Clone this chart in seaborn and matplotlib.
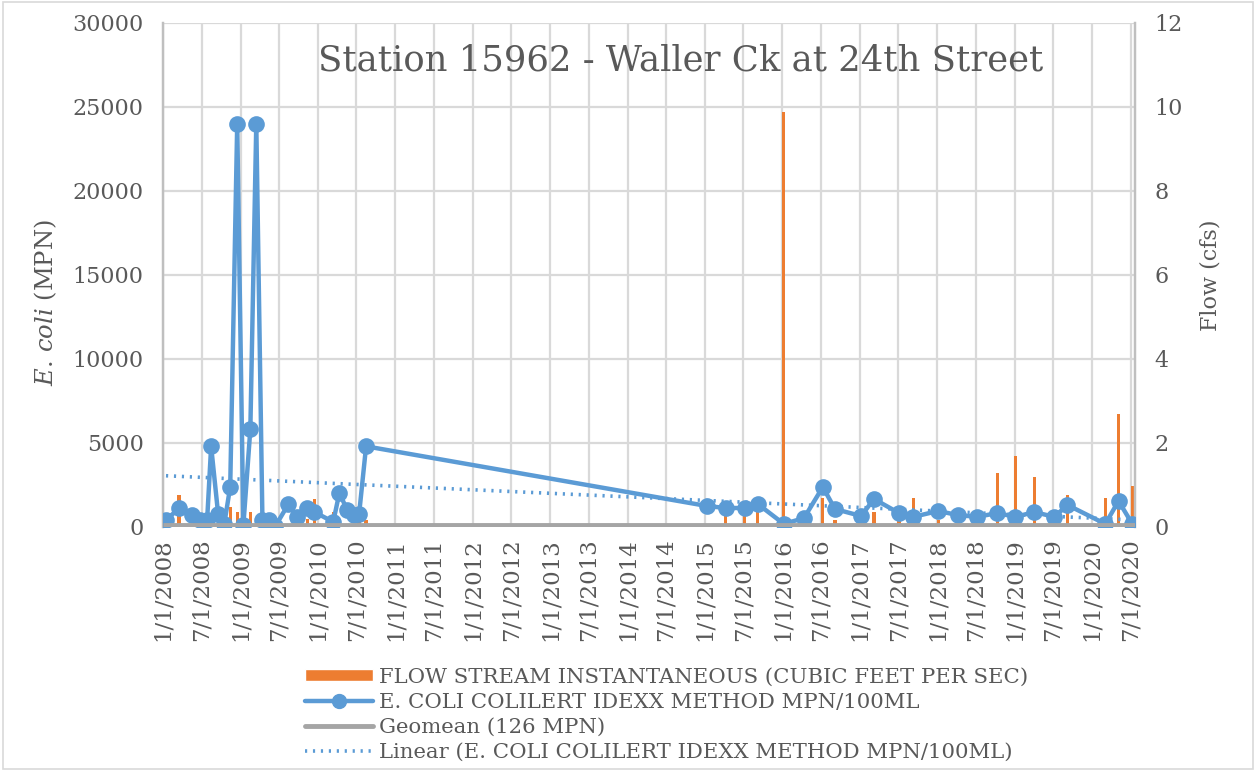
import matplotlib
matplotlib.use("Agg")
import matplotlib.pyplot as plt
from matplotlib.patches import Rectangle, Patch
from matplotlib.lines import Line2D
import seaborn as sns
import pandas as pd

# sample dates and values
dates = ["2008-01-15", "2008-03-16", "2008-05-17", "2008-06-24", "2008-07-27", "2008-08-15",
         "2008-09-17", "2008-10-16", "2008-11-13", "2008-12-16", "2009-01-14", "2009-02-16",
         "2009-03-16", "2009-04-14", "2009-05-16", "2009-06-14", "2009-08-14", "2009-09-25",
         "2009-11-12", "2009-12-14", "2010-03-14", "2010-04-12", "2010-05-19", "2010-06-21",
         "2010-07-14", "2010-08-16", "2015-01-10", "2015-04-08", "2015-07-07", "2015-09-07",
         "2016-01-08", "2016-04-12", "2016-07-10", "2016-09-05", "2017-01-07", "2017-03-08",
         "2017-07-04", "2017-09-09", "2018-01-05", "2018-04-08", "2018-07-08", "2018-10-11",
         "2019-01-04", "2019-04-04", "2019-07-07", "2019-09-07", "2020-03-04", "2020-05-05",
         "2020-07-09"]
ecoli = [420, 1100, 700, 400, 400, 4800,
         770, 180, 2400, 24000, 100, 5830,
         24000, 400, 420, 50, 1350, 600,
         1100, 900, 300, 2030, 1000, 700,
         760, 4800, 1250, 1130, 1130, 1370,
         180, 530, 2380, 1070, 650, 1670,
         830, 600, 950, 710, 600, 830,
         600, 890, 600, 1310, 180, 1550,
         180]
flow = [0, 0.76, 0, 0, 0, 0,
        0, 0, 0.48, 0.36, 0, 0.36,
        0, 0, 0, 0, 0, 0,
        0.2, 0.67, 0.36, 0, 0, 0,
        0.17, 0.17, 0, 0.26, 0.26, 0.36,
        9.88, 0, 0.68, 0.17, 0, 0.36,
        0.17, 0.68, 0.17, 0, 0, 1.28,
        1.68, 1.18, 0, 0.76, 0.68, 2.69,
        0.98]
geomean = 126
# Excel linear trendline, read at its two ends
trend_dates = ["2008-01-15", "2020-07-09"]
trend_values = [3050, 420]

df = pd.DataFrame({"date": pd.to_datetime(dates), "ecoli": ecoli, "flow": flow})
trend = pd.DataFrame({"date": pd.to_datetime(trend_dates), "value": trend_values})

blue = "#5B9BD5"
orange = "#ED7D31"
gray = "#A5A5A5"
txt = "#595959"

sns.set_style("white")
plt.rcParams["font.family"] = ["DejaVu Serif"]
plt.rcParams["mathtext.fontset"] = "dejavuserif"

x0, x1 = pd.Timestamp("2008-01-01"), pd.Timestamp("2020-07-22")

fig = plt.figure(figsize=(12.56, 7.71), dpi=100)
ax2 = fig.add_axes([0.1298, 0.3165, 0.9037 - 0.1298, 0.9702 - 0.3165])
ax = ax2.twinx()
ax.set_zorder(ax2.get_zorder() + 1)
ax.patch.set_visible(False)

# flow bars on the secondary axis (drawn underneath)
ax2.bar(df["date"], df["flow"], width=15, color=orange, linewidth=0, zorder=2)
ax2.set_ylim(0, 12)
ax2.set_yticks(range(0, 13, 2))
ax2.yaxis.tick_right()
ax2.yaxis.set_label_position("right")
ax2.set_ylabel("Flow (cfs)", fontsize=16, color=txt, labelpad=12)

xticks = pd.date_range("2008-01-01", "2020-07-01", freq="6MS")
ax2.set_xticks(xticks)
ax2.set_xticklabels([f"{d.month}/1/{d.year}" for d in xticks], rotation=90, fontsize=16.5, color=txt)
ax2.set_xlim(x0, x1)
ax2.grid(True, color="#D9D9D9", linewidth=1.6, zorder=0)
ax2.set_axisbelow(True)
ax2.tick_params(axis="y", labelsize=16, labelcolor=txt, length=0, pad=14)
ax2.tick_params(axis="x", length=0, pad=8)

# E. coli series on the primary axis
sns.lineplot(data=df, x="date", y="ecoli", ax=ax, color=blue, linewidth=3.2,
             marker="o", markersize=12, markeredgewidth=0, zorder=3)
sns.lineplot(data=trend, x="date", y="value", ax=ax, color=blue, linewidth=2.6,
             linestyle=(0, (0.6, 1.6)), zorder=3)
ax.plot([x0, x1], [geomean, geomean], color=gray, linewidth=3.5, zorder=4,
        solid_capstyle="butt")
ax.set_ylim(0, 30000)
ax.set_yticks(range(0, 30001, 5000))
ax.yaxis.tick_left()
ax.yaxis.set_label_position("left")
ax.tick_params(axis="y", labelsize=16, labelcolor=txt, length=0, pad=14)
ax.set_xlim(x0, x1)
ax.set_xlabel("")
ax.set_ylabel("")
fig.text(0.036, 0.607, r"$\mathit{E.\,coli}$ (MPN)", rotation=90, fontsize=17.5,
         color=txt, ha="center", va="center")

for a in (ax, ax2):
    for side in ("top", "bottom"):
        a.spines[side].set_visible(False)
    a.spines["left"].set_color("#BFBFBF")
    a.spines["right"].set_color("#BFBFBF")
    a.spines["left"].set_linewidth(1.6)
    a.spines["right"].set_linewidth(1.6)

ax.text(0.532, 0.925, "Station 15962 - Waller Ck at 24th Street", transform=ax.transAxes,
        ha="center", va="center", fontsize=25.5, color=txt)

handles = [Patch(facecolor=orange),
           Line2D([], [], color=blue, linewidth=3.2, marker="o", markersize=10),
           Line2D([], [], color=gray, linewidth=3.5),
           Line2D([], [], color=blue, linewidth=2.6, linestyle=(0, (0.6, 1.6)))]
labels = ["FLOW STREAM INSTANTANEOUS (CUBIC FEET PER SEC)",
          "E. COLI COLILERT IDEXX METHOD MPN/100ML",
          "Geomean (126 MPN)",
          "Linear (E. COLI COLILERT IDEXX METHOD MPN/100ML)"]
leg = fig.legend(handles, labels, loc="upper left", bbox_to_anchor=(0.236, 0.145),
                 frameon=False, fontsize=15.3, handlelength=3.2, handleheight=0.5,
                 labelspacing=0.28, handletextpad=0.3, borderaxespad=0)
for t in leg.get_texts():
    t.set_color(txt)

fig.patches.append(Rectangle((0.002, 0.003), 0.996, 0.994, transform=fig.transFigure,
                             fill=False, edgecolor="#D9D9D9", linewidth=1.2))

fig.savefig("out.png", dpi=100)
